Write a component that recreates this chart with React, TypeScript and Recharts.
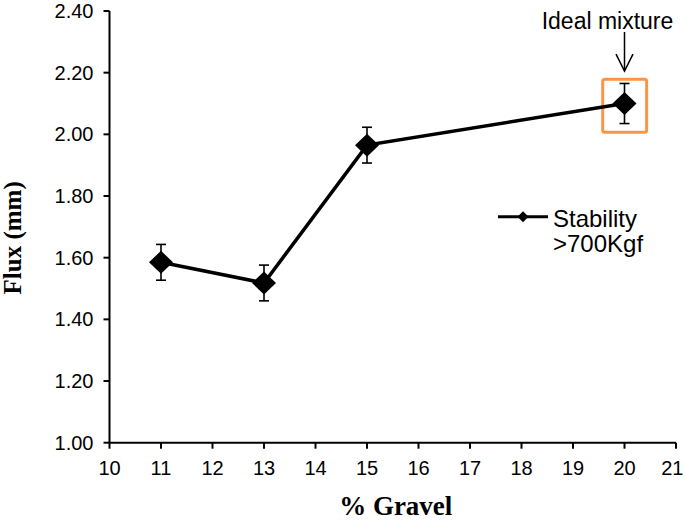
import React from 'react';
import {
  LineChart,
  Line,
  XAxis,
  YAxis,
  ErrorBar,
  ReferenceArea,
  ReferenceDot,
  ReferenceLine,
  Legend,
} from 'recharts';

// ---- data ----
const gravel = [11, 13, 15, 20];
const flux = [1.585, 1.518, 1.965, 2.1];
const fluxErr = [0.058, 0.058, 0.058, 0.065];

const xTicks = [10, 11, 12, 13, 14, 15, 16, 17, 18, 19, 20, 21];
const yTicks = [1.0, 1.2, 1.4, 1.6, 1.8, 2.0, 2.2, 2.4];

const seriesName = 'Stability >700Kgf';
const annotationText = 'Ideal mixture';

// highlight box around the ideal mixture point (data coordinates)
const boxX = [19.577, 20.43];
const boxY = [2.007, 2.179];
// arrow from text down to box (data coordinates)
const arrowX = 20;
const arrowY = [2.332, 2.205];
const annotationY = 2.342;

const data = gravel.map((g, i) => ({ gravel: g, flux: flux[i], err: fluxErr[i] }));

const SANS = '"Liberation Sans", Arial, sans-serif';
const SERIF = '"Liberation Serif", "Times New Roman", serif';
const PAGE_W = 685;

const Diamond = (props: any) => {
  const { cx, cy, index } = props;
  if (cx == null || cy == null) return null;
  const w = 12;
  const h = 11.5;
  return (
    <path
      key={`d-${index}`}
      d={`M${cx},${cy - h} L${cx + w},${cy} L${cx},${cy + h} L${cx - w},${cy} Z`}
      fill="#000"
      stroke="none"
    />
  );
};

const XTick = (props: any) => {
  const { x, y, payload } = props;
  const label = String(payload.value);
  const half = label.length * 5.6;
  const cx = Math.min(x, PAGE_W - half - 1.5);
  return (
    <text
      x={cx}
      y={y}
      dy="0.71em"
      textAnchor="middle"
      fill="#000"
      fontSize={20}
      fontFamily={SANS}
    >
      {label}
    </text>
  );
};

const renderLegend = () => (
  <div
    style={{
      display: 'flex',
      alignItems: 'flex-start',
      fontFamily: SANS,
      fontSize: 24,
      lineHeight: '25px',
      color: '#000',
    }}
  >
    <svg width={52} height={22} style={{ display: 'block' }}>
      <line x1={0} y1={10.7} x2={50} y2={10.7} stroke="#000" strokeWidth={3} />
      <path d="M25,5.2 L30.5,10.7 L25,16.2 L19.5,10.7 Z" fill="#000" />
    </svg>
    <div style={{ marginLeft: 3 }}>
      Stability
      <br />
      &gt;700Kgf
    </div>
  </div>
);

export default function App() {
  return (
    <div style={{ position: 'absolute', left: 0, top: 0, width: 685, height: 526, background: '#fff' }}>
      <LineChart
        width={685}
        height={526}
        data={data}
        margin={{ top: 11, right: 9, bottom: 0, left: 0 }}
      >
        <XAxis
          type="number"
          dataKey="gravel"
          domain={[10, 21]}
          ticks={xTicks}
          interval={0}
          height={83.3}
          tickSize={6}
          tickMargin={12}
          axisLine={{ stroke: '#000', strokeWidth: 2 }}
          tickLine={{ stroke: '#000', strokeWidth: 2 }}
          tick={<XTick />}
          label={{
            content: (p: any) => {
              const vb = p.viewBox || { x: 109.5, y: 442.7, width: 566.5, height: 83.3 };
              return (
                <text
                  x={vb.x + vb.width / 2 + 3}
                  y={vb.y + vb.height - 11}
                  textAnchor="middle"
                  fontFamily={SERIF}
                  fontWeight="bold"
                  fontSize={27}
                  fill="#000"
                >
                  % Gravel
                </text>
              );
            },
          }}
        />
        <YAxis
          type="number"
          domain={[1, 2.4]}
          ticks={yTicks}
          interval={0}
          width={109.5}
          tickSize={6}
          tickMargin={10}
          tickFormatter={(v: number) => v.toFixed(2)}
          axisLine={{ stroke: '#000', strokeWidth: 2 }}
          tickLine={{ stroke: '#000', strokeWidth: 2 }}
          tick={{ fill: '#000', fontSize: 20, fontFamily: SANS }}
          label={{
            content: (p: any) => {
              const vb = p.viewBox || { x: 0, y: 11, width: 109.5, height: 431.7 };
              const x = vb.x + 21.5;
              const y = vb.y + vb.height / 2 + 11;
              return (
                <text
                  x={x}
                  y={y}
                  transform={`rotate(-90 ${x} ${y})`}
                  textAnchor="middle"
                  fontFamily={SERIF}
                  fontWeight="bold"
                  fontSize={25}
                  fill="#000"
                >
                  Flux (mm)
                </text>
              );
            },
          }}
        />
        <ReferenceArea
          x1={boxX[0]}
          x2={boxX[1]}
          y1={boxY[0]}
          y2={boxY[1]}
          fill="none"
          fillOpacity={0}
          stroke="#F79646"
          strokeWidth={3}
          radius={2}
        />
        <ReferenceLine
          segment={[
            { x: arrowX, y: arrowY[0] },
            { x: arrowX, y: arrowY[1] },
          ]}
          stroke="#000"
          strokeWidth={1.5}
        />
        <ReferenceDot
          x={arrowX}
          y={arrowY[1]}
          r={0}
          shape={(p: any) => (
            <path
              d={`M${p.cx - 8.5},${p.cy - 17} L${p.cx},${p.cy} L${p.cx + 8.5},${p.cy - 17}`}
              fill="none"
              stroke="#000"
              strokeWidth={1.5}
            />
          )}
        />
        <ReferenceDot
          x={arrowX}
          y={annotationY}
          r={0}
          shape={(p: any) => (
            <text
              x={p.cx - 17}
              y={p.cy}
              textAnchor="middle"
              fontFamily={SANS}
              fontSize={23}
              fill="#000"
            >
              {annotationText}
            </text>
          )}
        />
        <Legend
          layout="horizontal"
          verticalAlign="middle"
          align="center"
          content={renderLegend}
          wrapperStyle={{ left: 498, top: 206, width: 'auto', height: 'auto' }}
        />
        <Line
          name={seriesName}
          type="linear"
          dataKey="flux"
          stroke="#000"
          strokeWidth={3.5}
          dot={Diamond}
          activeDot={false}
          isAnimationActive={false}
        >
          <ErrorBar dataKey="err" direction="y" width={5} stroke="#000" strokeWidth={1.6} isAnimationActive={false} />
        </Line>
      </LineChart>
    </div>
  );
}
